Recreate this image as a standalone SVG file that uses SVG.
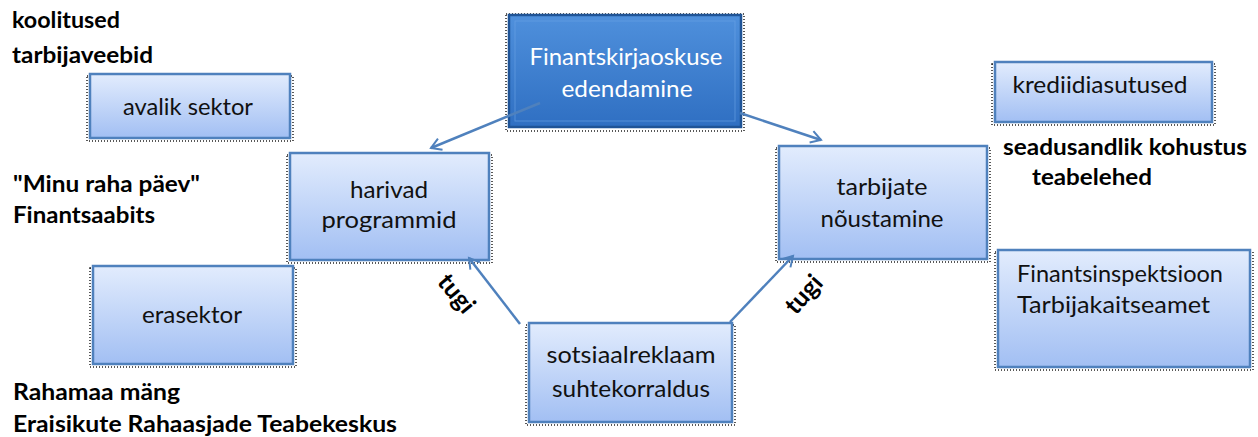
<svg xmlns="http://www.w3.org/2000/svg" width="1258" height="437" viewBox="0 0 1258 437">
<defs>
<linearGradient id="lg" x1="0" y1="0" x2="0" y2="1">
<stop offset="0" stop-color="#e2ecfd"/>
<stop offset="1" stop-color="#a2bff3"/>
</linearGradient>
<linearGradient id="dg" x1="0" y1="0" x2="0" y2="1">
<stop offset="0" stop-color="#4f90dc"/>
<stop offset="1" stop-color="#2f6fc2"/>
</linearGradient>
<marker id="ah" markerWidth="14" markerHeight="14" refX="11" refY="7" orient="auto" markerUnits="userSpaceOnUse">
<path d="M1,1 L11,7 L1,13" fill="none" stroke="#4f81bd" stroke-width="2"/>
</marker>
<style>
.box{fill:url(#lg);stroke:#4f81bd;stroke-width:2.5}
.dark{fill:url(#dg);stroke:#1f5497;stroke-width:2.5}
.sh{fill:none;stroke:#222;stroke-width:1.5;stroke-dasharray:1 2}
.t{font-family:Lato,"Open Sans","Liberation Sans",sans-serif;font-size:23px;fill:#111}
.tw{font-family:Lato,"Open Sans","Liberation Sans",sans-serif;font-size:23px;fill:#fff}
.b{font-family:Lato,"Open Sans","Liberation Sans",sans-serif;font-size:22px;font-weight:bold;fill:#000}
.tg{font-family:Lato,"Open Sans","Liberation Sans",sans-serif;font-size:25px;font-weight:bold;fill:#000}
.c{fill:none;stroke:#4f81bd;stroke-width:2.5;marker-end:url(#ah)}
</style>
</defs>
<rect width="1258" height="437" fill="#fff"/>

<g id="n-top">
<rect class="sh" x="506" y="14" width="238" height="117"/>
<rect class="dark" x="509" y="15" width="232" height="112"/>
<rect x="515" y="21" width="220" height="100" fill="none" stroke="#6aa3e6" stroke-width="1" opacity="0.6"/>
<text class="tw" x="626" y="65" text-anchor="middle" textLength="193" lengthAdjust="spacingAndGlyphs">Finantskirjaoskuse</text>
<text class="tw" x="627" y="97" text-anchor="middle" textLength="131" lengthAdjust="spacingAndGlyphs">edendamine</text>
</g>

<g id="n-harivad">
<rect class="sh" x="287" y="155" width="205" height="108"/>
<rect class="box" x="290" y="153" width="199" height="107"/>
<text class="t" x="389" y="198" text-anchor="middle" textLength="78" lengthAdjust="spacingAndGlyphs">harivad</text>
<text class="t" x="389" y="228" text-anchor="middle" textLength="135" lengthAdjust="spacingAndGlyphs">programmid</text>
</g>

<g id="n-tarbijate">
<rect class="sh" x="776" y="148" width="214" height="114"/>
<rect class="box" x="779" y="146" width="208" height="113"/>
<text class="t" x="882" y="195" text-anchor="middle" textLength="91" lengthAdjust="spacingAndGlyphs">tarbijate</text>
<text class="t" x="882" y="227" text-anchor="middle" textLength="123" lengthAdjust="spacingAndGlyphs">nõustamine</text>
</g>

<g id="n-sotsiaal">
<rect class="sh" x="526" y="325" width="209" height="100"/>
<rect class="box" x="529" y="323" width="203" height="99"/>
<text class="t" x="631" y="363" text-anchor="middle" textLength="169" lengthAdjust="spacingAndGlyphs">sotsiaalreklaam</text>
<text class="t" x="631" y="397" text-anchor="middle" textLength="158" lengthAdjust="spacingAndGlyphs">suhtekorraldus</text>
</g>

<g id="n-avalik">
<rect class="sh" x="87" y="76" width="206" height="65"/>
<rect class="box" x="90" y="74" width="200" height="64"/>
<text class="t" x="188" y="115" text-anchor="middle" textLength="130" lengthAdjust="spacingAndGlyphs">avalik sektor</text>
</g>

<g id="n-erasektor">
<rect class="sh" x="90" y="268" width="206" height="99"/>
<rect class="box" x="93" y="266" width="200" height="98"/>
<text class="t" x="192" y="323" text-anchor="middle" textLength="100" lengthAdjust="spacingAndGlyphs">erasektor</text>
</g>

<g id="n-krediit">
<rect class="sh" x="992" y="64" width="223" height="61"/>
<rect class="box" x="995" y="62" width="217" height="60"/>
<text class="t" x="1100" y="93" text-anchor="middle" textLength="175" lengthAdjust="spacingAndGlyphs">krediidiasutused</text>
</g>

<g id="n-fi">
<rect class="sh" x="995" y="252" width="258" height="118"/>
<rect class="box" x="998" y="250" width="252" height="117"/>
<text class="t" x="1017" y="282" textLength="206" lengthAdjust="spacingAndGlyphs">Finantsinspektsioon</text>
<text class="t" x="1017" y="313" textLength="193" lengthAdjust="spacingAndGlyphs">Tarbijakaitseamet</text>
</g>

<g id="labels">
<text class="b" x="12" y="28" textLength="108" lengthAdjust="spacingAndGlyphs">koolitused</text>
<text class="b" x="12" y="63" textLength="141" lengthAdjust="spacingAndGlyphs">tarbijaveebid</text>
<text class="b" x="13" y="192" textLength="187" lengthAdjust="spacingAndGlyphs">"Minu raha päev"</text>
<text class="b" x="13" y="223" textLength="142" lengthAdjust="spacingAndGlyphs">Finantsaabits</text>
<text class="b" x="13" y="400" textLength="167" lengthAdjust="spacingAndGlyphs">Rahamaa mäng</text>
<text class="b" x="13" y="432" textLength="384" lengthAdjust="spacingAndGlyphs">Eraisikute Rahaasjade Teabekeskus</text>
<text class="b" x="1003" y="155" textLength="244" lengthAdjust="spacingAndGlyphs">seadusandlik kohustus</text>
<text class="b" x="1032" y="185" textLength="120" lengthAdjust="spacingAndGlyphs">teabelehed</text>
</g>

<g id="connectors">
<line class="c" x1="540" y1="103" x2="431" y2="148"/>
<line class="c" x1="740" y1="113" x2="821" y2="140"/>
<line class="c" x1="520" y1="324" x2="469" y2="258"/>
<line class="c" x1="730" y1="322" x2="793" y2="256"/>
<text class="tg" x="0" y="0" text-anchor="middle" transform="translate(450,299) rotate(50)">tugi</text>
<text class="tg" x="0" y="0" text-anchor="middle" transform="translate(810,300) rotate(-48)">tugi</text>
</g>
</svg>
